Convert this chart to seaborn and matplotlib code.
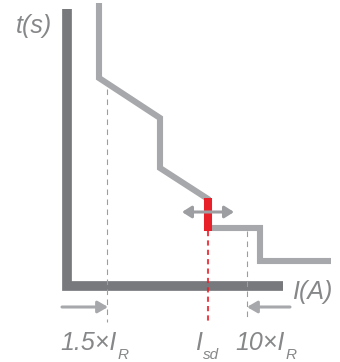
import matplotlib
matplotlib.use("Agg")
import pandas as pd
import seaborn as sns
from matplotlib import pyplot as plt

# trip curve, in picture units (x = current, y = time, y grows downward)
CURVE_I = [99, 99, 160, 160, 208, 208, 260, 260, 331]
CURVE_T = [3, 78, 118, 168, 199, 228, 228, 261, 261]

# the two axes drawn as an L
AXIS_I = [67, 67, 283]
AXIS_T = [9, 286, 286]

# short-delay pick-up setting (red)
ISD_I = [208, 208]
ISD_T = [198, 231]

# guide lines down to the labels
GUIDE_I = [107, 208, 247]
GUIDE_TOP = [89, 231, 231]
GUIDE_BOTTOM = [322, 322, 319]
GUIDE_MAIN = ["1.5×I", "I", "10×I"]
GUIDE_SUB = ["R", "sd", "R"]
LABEL_LEFT = [60, 195, 235]

AXIS_COLOR = "#78797c"
CURVE_COLOR = "#a7a8ab"
TEXT_COLOR = "#868789"
RED = "#e8202a"

sns.set_style("white")
plt.rcParams["font.family"] = ["Liberation Sans", "DejaVu Sans"]

fig = plt.figure(figsize=(3.4, 3.62), dpi=100)
ax = fig.add_axes([0, 0, 1, 1])
ax.set_xlim(0, 340)
ax.set_ylim(362, 0)
ax.axis("off")

axis_df = pd.DataFrame({"i": AXIS_I, "t": AXIS_T})
sns.lineplot(data=axis_df, x="i", y="t", sort=False, estimator=None, color=AXIS_COLOR,
             lw=7, ax=ax, solid_joinstyle="miter", solid_capstyle="butt")

curve_df = pd.DataFrame({"i": CURVE_I, "t": CURVE_T})
sns.lineplot(data=curve_df, x="i", y="t", sort=False, estimator=None, color=CURVE_COLOR,
             lw=4.4, ax=ax, solid_joinstyle="miter", solid_capstyle="butt")

# guide lines
for k, (x, y0, y1) in enumerate(zip(GUIDE_I, GUIDE_TOP, GUIDE_BOTTOM)):
    if k == 1:
        ax.plot([x, x], [y0, y1], color=RED, lw=1.5, ls=(0, (2.5, 2)), alpha=0.85)
    else:
        ax.plot([x, x], [y0, y1], color="#9c9da0", lw=0.8, ls=(0, (5, 4)))

isd_df = pd.DataFrame({"i": ISD_I, "t": ISD_T})
sns.lineplot(data=isd_df, x="i", y="t", sort=False, estimator=None, color=RED,
             lw=5.8, ax=ax, solid_capstyle="butt")

# adjustment arrow across the setting
ax.annotate("", xy=(182, 212), xytext=(234, 212),
            arrowprops=dict(arrowstyle="<|-|>,head_length=0.55,head_width=0.35",
                            color="#9d9ea1", lw=2.2, shrinkA=0, shrinkB=0))

# range arrows under the axis
ax.annotate("", xy=(108, 307), xytext=(62, 307),
            arrowprops=dict(arrowstyle="-|>,head_length=0.6,head_width=0.35",
                            color=CURVE_COLOR, lw=2.2, shrinkA=0, shrinkB=0))
ax.annotate("", xy=(247, 307), xytext=(290, 307),
            arrowprops=dict(arrowstyle="-|>,head_length=0.6,head_width=0.35",
                            color=CURVE_COLOR, lw=2.2, shrinkA=0, shrinkB=0))

text_kw = dict(color=TEXT_COLOR, fontsize=18, fontstyle="italic")
ax.text(16, 33, "t(s)", ha="left", va="baseline", **text_kw)
ax.text(292, 299, "I(A)", ha="left", va="baseline", **text_kw)
for x, main, sub in zip(LABEL_LEFT, GUIDE_MAIN, GUIDE_SUB):
    t = ax.text(x, 350, main, ha="left", va="baseline", **text_kw)
    ax.annotate(sub, xy=(1, 0), xycoords=t, xytext=(1, -3), textcoords="offset points",
                ha="left", va="baseline", color=TEXT_COLOR, fontsize=11,
                fontstyle="italic")

fig.savefig("out.png", dpi=100)
